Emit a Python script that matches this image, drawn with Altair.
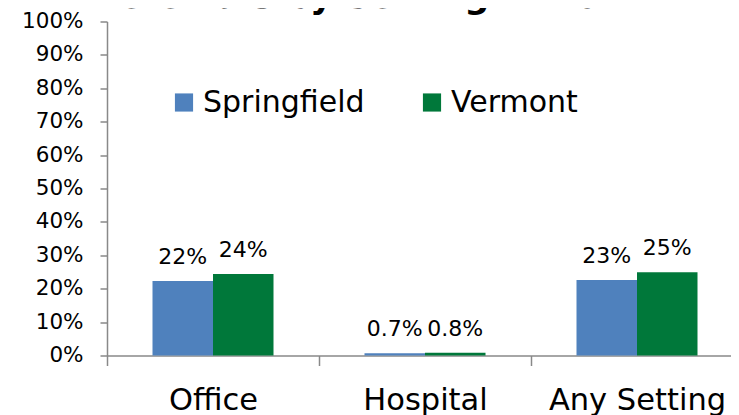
import altair as alt
import pandas as pd

settings = ["Office", "Hospital", "Any Setting"]
series = ["Springfield", "Vermont"]
springfield = [22.3, 0.7, 22.6]
vermont = [24.4, 0.8, 24.9]
springfield_labels = ["22%", "0.7%", "23%"]
vermont_labels = ["24%", "0.8%", "25%"]
y_ticks = [0, 10, 20, 30, 40, 50, 60, 70, 80, 90, 100]
title_text = "Referrals by Setting in 2014"
colors = ["#4F81BD", "#00783A"]

rows = []
for i, s in enumerate(settings):
    rows.append({"setting": s, "series": series[0], "value": springfield[i], "label": springfield_labels[i]})
    rows.append({"setting": s, "series": series[1], "value": vermont[i], "label": vermont_labels[i]})
df = pd.DataFrame(rows)

FONT = "DejaVu Sans"
AX = "#898989"

x_enc = alt.X("setting:N", sort=settings, title=None,
              scale=alt.Scale(paddingInner=0, paddingOuter=0, range=[0, 636]),
              axis=alt.Axis(labelFont=FONT, labelFontSize=30.5, labelColor="black",
                            labelAngle=0, tickBand="extent", tickSize=10,
                            labelPadding=20, labelLimit=400, domainColor=AX, tickColor=AX,
                            domainWidth=1.5, tickWidth=1.5))
xoff = alt.XOffset("series:N", sort=series,
                   scale=alt.Scale(paddingInner=0, paddingOuter=0.752))
y_enc = alt.Y("value:Q", title=None,
              scale=alt.Scale(domain=[0, 100], nice=False),
              axis=alt.Axis(values=y_ticks, labelExpr="datum.value + '%'",
                            labelFont=FONT, labelFontSize=21.5, labelColor="black",
                            labelOverlap=False,
                            tickSize=7, labelPadding=17, grid=False,
                            domainColor=AX, tickColor=AX, domainWidth=1.5, tickWidth=1.5))

base = alt.Chart(df)
bars = base.mark_bar(size=60.5).encode(
    x=x_enc, xOffset=xoff, y=y_enc,
    color=alt.Color("series:N", sort=series, title=None,
                    scale=alt.Scale(domain=series, range=colors),
                    legend=alt.Legend(orient="none", legendX=62, legendY=66,
                                      direction="horizontal", symbolType="square",
                                      symbolSize=330, symbolStrokeWidth=0,
                                      symbolOpacity=1, labelFont=FONT,
                                      labelFontSize=30, labelColor="black",
                                      labelLimit=400,
                                      labelOffset=4, columnPadding=52)),
)
labels = base.mark_text(font=FONT, fontSize=22, baseline="alphabetic", dy=-17,
                        color="black").encode(
    x=x_enc, xOffset=xoff, y=y_enc, text="label:N")

title = alt.Chart(pd.DataFrame({"t": [title_text]})).mark_text(
    font=FONT, fontSize=35, fontWeight="bold", baseline="alphabetic",
    align="center", color="black").encode(
    text="t:N", x=alt.value(263), y=alt.value(-14))

chart = alt.layer(bars, labels, title).properties(
    width=624, height=334,
    padding={"left": 99, "top": 13.5, "right": 0, "bottom": 59.5},
    autosize=alt.AutoSizeParams(type="none"),
).configure(background="white").configure_view(strokeWidth=0)

chart.save("out.html", embed_options={"renderer": "svg", "actions": False})
